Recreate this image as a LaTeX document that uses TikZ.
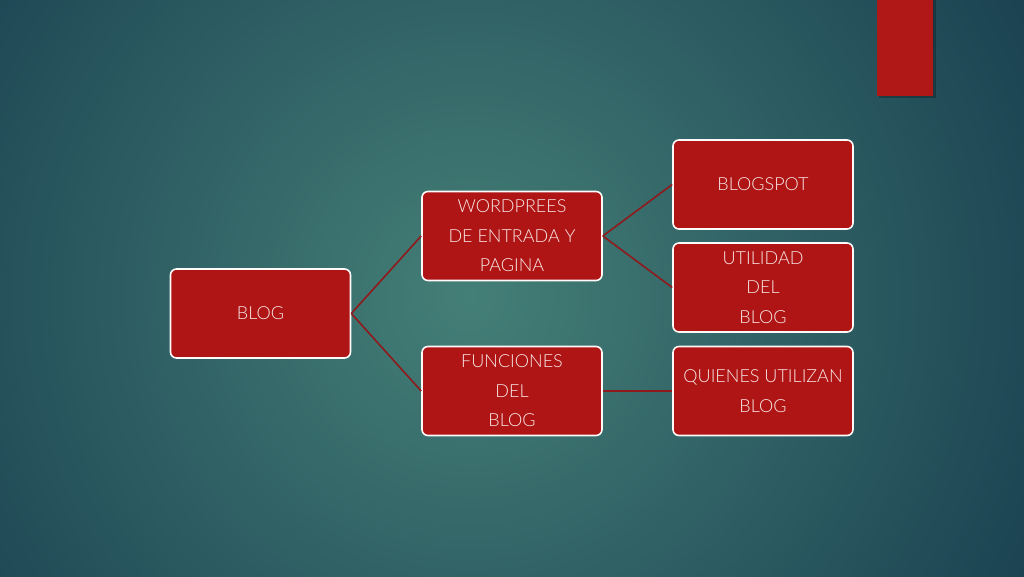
\documentclass[tikz,border=0pt]{standalone}
\usepackage{fontspec}
\setmainfont{Lato}[UprightFont={* Light}]
\definecolor{bgin}{HTML}{447F77}
\definecolor{bgout}{HTML}{1A4151}
\definecolor{boxred}{HTML}{B01515}
\definecolor{linkred}{HTML}{8E1A1C}
\definecolor{txt}{HTML}{F7E8E6}
\definecolor{barred}{HTML}{B01818}
\tikzset{
  box/.style={rectangle, rounded corners=6pt, draw=white!92!pink, line width=1.6pt,
    fill=boxred, minimum width=180pt, minimum height=89pt, inner sep=0pt,
    align=center, text=txt, font=\fontsize{18}{29.5}\selectfont},
  link/.style={draw=linkred, line width=1.6pt}
}
\begin{document}
\begin{tikzpicture}[x=1pt,y=1pt]
\useasboundingbox (0,0) rectangle (1024,576);
\fill[bgout] (0,0) rectangle (1024,576);
\begin{scope}
\clip (0,0) rectangle (1024,576);
\shade[inner color=bgin, outer color=bgout] (470,280) circle (640);
\fill[black, opacity=0.25] (879,478) rectangle (936,576);
\fill[barred] (877,480) rectangle (933,576);
\end{scope}
\node[box] (blog) at (260.5,262.5) {BLOG};
\node[box] (word) at (512,340) {WORDPREES\\DE ENTRADA Y\\PAGINA};
\node[box] (func) at (512,185) {FUNCIONES\\DEL\\BLOG};
\node[box] (spot) at (763,391.5) {BLOGSPOT};
\node[box] (util) at (763,288.5) {UTILIDAD\\DEL\\BLOG};
\node[box] (quien) at (763,185) {QUIENES UTILIZAN\\BLOG};
\draw[link] (blog.east) -- (word.west);
\draw[link] (blog.east) -- (func.west);
\draw[link] (word.east) -- (spot.west);
\draw[link] (word.east) -- (util.west);
\draw[link] (func.east) -- (quien.west);
\end{tikzpicture}
\end{document}
